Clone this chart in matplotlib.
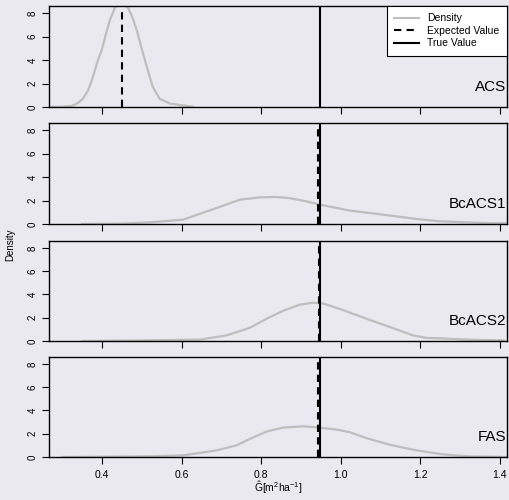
import numpy as np
import matplotlib
matplotlib.use("Agg")
import matplotlib.pyplot as plt
from matplotlib.lines import Line2D

plt.rcParams['font.family'] = ['Liberation Sans', 'DejaVu Sans']
plt.rcParams['mathtext.fontset'] = 'custom'
plt.rcParams['mathtext.rm'] = 'Liberation Sans'
plt.rcParams['mathtext.it'] = 'Liberation Sans'

# density curves (x = G-hat, y = density)
acs_x = [0.27, 0.30, 0.325, 0.34, 0.352, 0.365, 0.375, 0.39, 0.40, 0.41, 0.42, 0.433, 0.45,
         0.465, 0.477, 0.488, 0.498, 0.508, 0.518, 0.528, 0.545, 0.57, 0.60, 0.63]
acs_y = [0.0, 0.02, 0.1, 0.35, 0.7, 1.4, 2.3, 4.0, 4.9, 6.2, 7.4, 8.5, 8.8,
         8.5, 7.6, 6.5, 5.2, 4.0, 2.8, 1.7, 0.7, 0.3, 0.15, 0.02]

bc1_x = [0.35, 0.45, 0.52, 0.604, 0.688, 0.747, 0.797, 0.839, 0.872, 0.914, 0.948, 1.023, 1.106, 1.19, 1.249, 1.357, 1.42]
bc1_y = [0.0, 0.03, 0.14, 0.37, 1.36, 2.07, 2.27, 2.3, 2.2, 1.93, 1.65, 1.14, 0.8, 0.43, 0.23, 0.09, 0.05]

bc2_x = [0.35, 0.52, 0.646, 0.713, 0.772, 0.814, 0.856, 0.897, 0.931, 0.956, 1.006, 1.065, 1.124, 1.182, 1.216, 1.257, 1.316, 1.41]
bc2_y = [0.0, 0.06, 0.12, 0.48, 1.14, 1.91, 2.61, 3.12, 3.29, 3.23, 2.66, 1.91, 1.2, 0.48, 0.26, 0.22, 0.12, 0.05]

fas_x = [0.30, 0.52, 0.604, 0.688, 0.738, 0.772, 0.814, 0.856, 0.906, 0.94, 0.99, 1.023, 1.065, 1.124, 1.19, 1.256, 1.316, 1.42]
fas_y = [0.0, 0.06, 0.14, 0.57, 1.0, 1.56, 2.19, 2.53, 2.64, 2.55, 2.36, 2.13, 1.62, 1.05, 0.57, 0.23, 0.06, 0.0]

names = ['ACS', 'BcACS1', 'BcACS2', 'FAS']
curves_x = [acs_x, bc1_x, bc2_x, fas_x]
curves_y = [acs_y, bc1_y, bc2_y, fas_y]
expected = [0.45, 0.944, 0.946, 0.944]
true_value = 0.948

bg = '#E9E9EF'
dash = (0, (3.5, 2.5))
fig = plt.figure(figsize=(5.09, 5.0), dpi=100, facecolor=bg)

W, H = 509.0, 500.0
left, right = 49, 507
panels = [(6, 107), (123, 224), (241, 341), (357, 457)]

for i, (top, bot) in enumerate(panels):
    ax = fig.add_axes([left / W, 1 - bot / H, (right - left) / W, (bot - top) / H])
    ax.set_facecolor(bg)
    ax.plot(curves_x[i], curves_y[i], color='#BEBEBE', lw=1.6,
            solid_joinstyle='round', solid_capstyle='round')
    ax.axvline(expected[i], color='black', lw=1.5, ls=dash)
    ax.axvline(true_value, color='black', lw=1.5)
    ax.set_xlim(0.267, 1.418)
    ax.set_ylim(0, 8.6)
    ax.set_yticks([0, 2, 4, 6, 8])
    ax.set_xticks([0.4, 0.6, 0.8, 1.0, 1.2, 1.4])
    ax.tick_params(axis='y', labelsize=7, labelrotation=90, length=5, width=0.8, pad=3)
    ax.tick_params(axis='x', labelsize=7.5, length=5, width=0.8, pad=4)
    for lab in ax.get_yticklabels():
        lab.set_va('center')
    if i < 3:
        ax.set_xticklabels([])
    else:
        ax.set_xticklabels(['0.4', '0.6', '0.8', '1.0', '1.2', '1.4'])
        ax.set_xlabel(r'$\hat{\mathrm{G}}[\mathrm{m}^2\mathrm{ha}^{-1}]$', fontsize=7.5, labelpad=0)
    for s in ax.spines.values():
        s.set_linewidth(1.0)
    ax.text(1.417, 1.7, names[i], ha='right', va='center', fontsize=11)
    if i == 0:
        handles = [Line2D([], [], color='#BEBEBE', lw=1.5),
                   Line2D([], [], color='black', lw=1.5, ls=dash),
                   Line2D([], [], color='black', lw=1.5)]
        leg = ax.legend(handles, ['Density', 'Expected Value', 'True Value'],
                        loc='upper right', fontsize=7.5, frameon=True, fancybox=False,
                        edgecolor='black', framealpha=1, borderaxespad=0,
                        handlelength=2.4, handletextpad=0.8, labelspacing=0.25,
                        borderpad=0.7)
        leg.get_frame().set_linewidth(0.8)

fig.text(10 / W, 1 - 245 / H, 'Density', rotation=90, fontsize=7, ha='center', va='center')

fig.savefig('out.png', dpi=100, facecolor=bg)
